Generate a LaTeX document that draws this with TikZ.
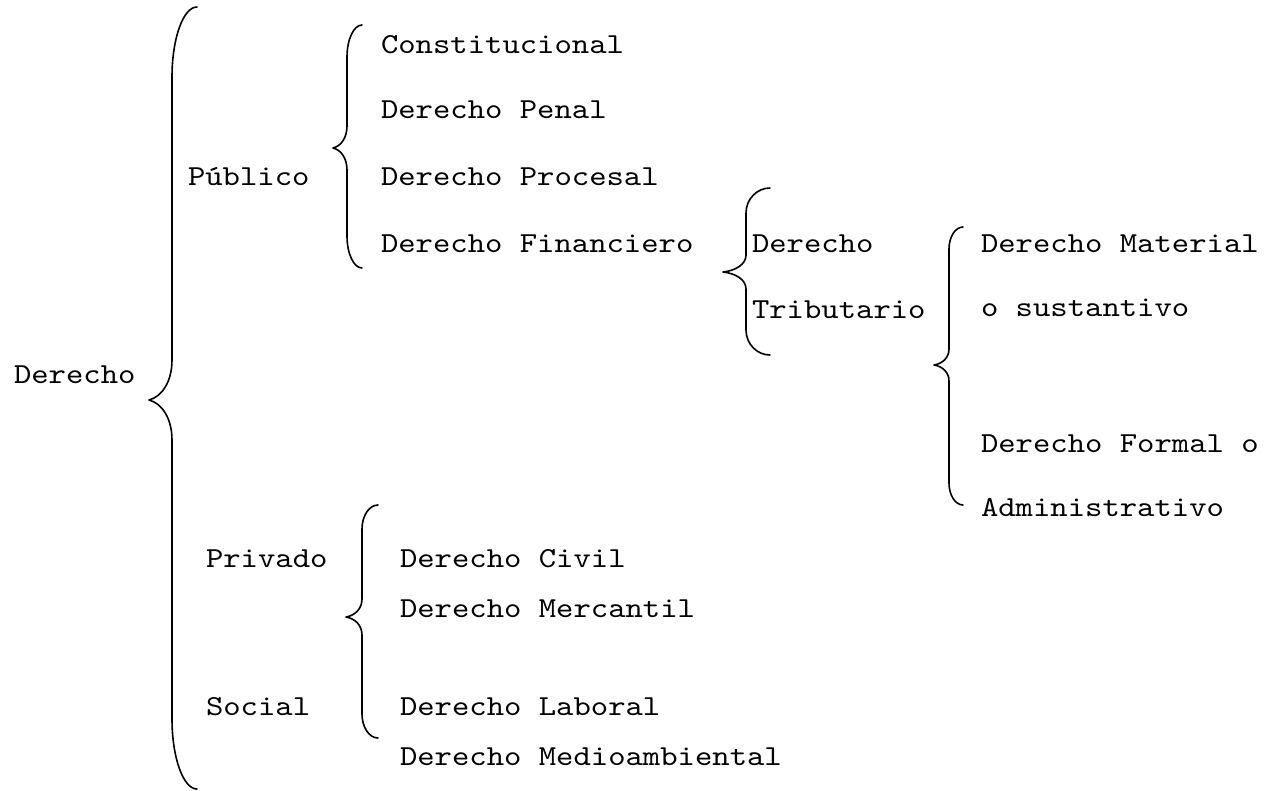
\documentclass[tikz,border=0pt]{standalone}
\usepackage{fontspec}
% serif typewriter face, widened to a Courier-like advance
\newfontfamily\monofam[FakeStretch=1.14]{lmmono10-regular.otf}
% #1 end x, #2 stem x, #3 tip x, #4 top y, #5 tip y, #6 bottom y, #7 hook height, #8 tip half-height
\newcommand{\wordbrace}[8]{%
  \draw[brace line]
    (#1,#4) .. controls ({#2+0.45*(#1-#2)},#4) and (#2,{#4+0.45*#7}) .. (#2,{#4+#7})
    -- (#2,{#5-#8})
    .. controls (#2,{#5-0.45*#8}) and ({#3+0.55*(#2-#3)},{#5-0.08*#8}) .. (#3,#5)
    .. controls ({#3+0.55*(#2-#3)},{#5+0.08*#8}) and (#2,{#5+0.45*#8}) .. (#2,{#5+#8})
    -- (#2,{#6-#7})
    .. controls (#2,{#6-0.45*#7}) and ({#2+0.45*(#1-#2)},#6) .. (#1,#6);%
}
\begin{document}
\begin{tikzpicture}[x=1pt,y=-1pt,
  label text/.style={anchor=base west,inner sep=0pt,outer sep=0pt,
    font=\monofam\fontsize{29}{29}\selectfont},
  brace line/.style={draw=black,line width=1.6pt,line cap=round,line join=round}]
\useasboundingbox[fill=white] (0,0) rectangle (1281,790);

% root and first level
\node[label text] (root) at (14,383) {Derecho};
\node[label text] (pub)  at (188,185) {Público};
\node[label text] (priv) at (206,567) {Privado};
\node[label text] (soc)  at (206,715) {Social};

% public law branches
\node[label text] (const) at (381,53)  {Constitucional};
\node[label text] (penal) at (381,118) {Derecho Penal};
\node[label text] (proc)  at (381,185) {Derecho Procesal};
\node[label text] (fin)   at (381,252) {Derecho Financiero};

% tax law
\node[label text] (trib1) at (752,252) {Derecho};
\node[label text] (trib2) at (752,318) {Tributario};

\node[label text] (mat1) at (981,252) {Derecho Material};
\node[label text] (mat2) at (981,316) {o sustantivo};
\node[label text] (for1) at (981,452) {Derecho Formal o};
\node[label text] (for2) at (981,516) {Administrativo};

% private and social law branches
\node[label text] (civ)  at (400,567) {Derecho Civil};
\node[label text] (merc) at (400,617) {Derecho Mercantil};
\node[label text] (lab)  at (400,715) {Derecho Laboral};
\node[label text] (med)  at (400,765) {Derecho Medioambiental};

% braces
\wordbrace{197}{172}{149}{7}{400}{789}{70}{40}
\wordbrace{362}{347}{333}{25}{148}{268}{32}{22}
\wordbrace{770}{746}{723}{188}{272}{355}{25}{17}
\wordbrace{963}{949}{934}{227}{365}{505}{22}{16}
\wordbrace{378}{362}{346}{505}{617}{738}{24}{18}
\end{tikzpicture}
\end{document}
